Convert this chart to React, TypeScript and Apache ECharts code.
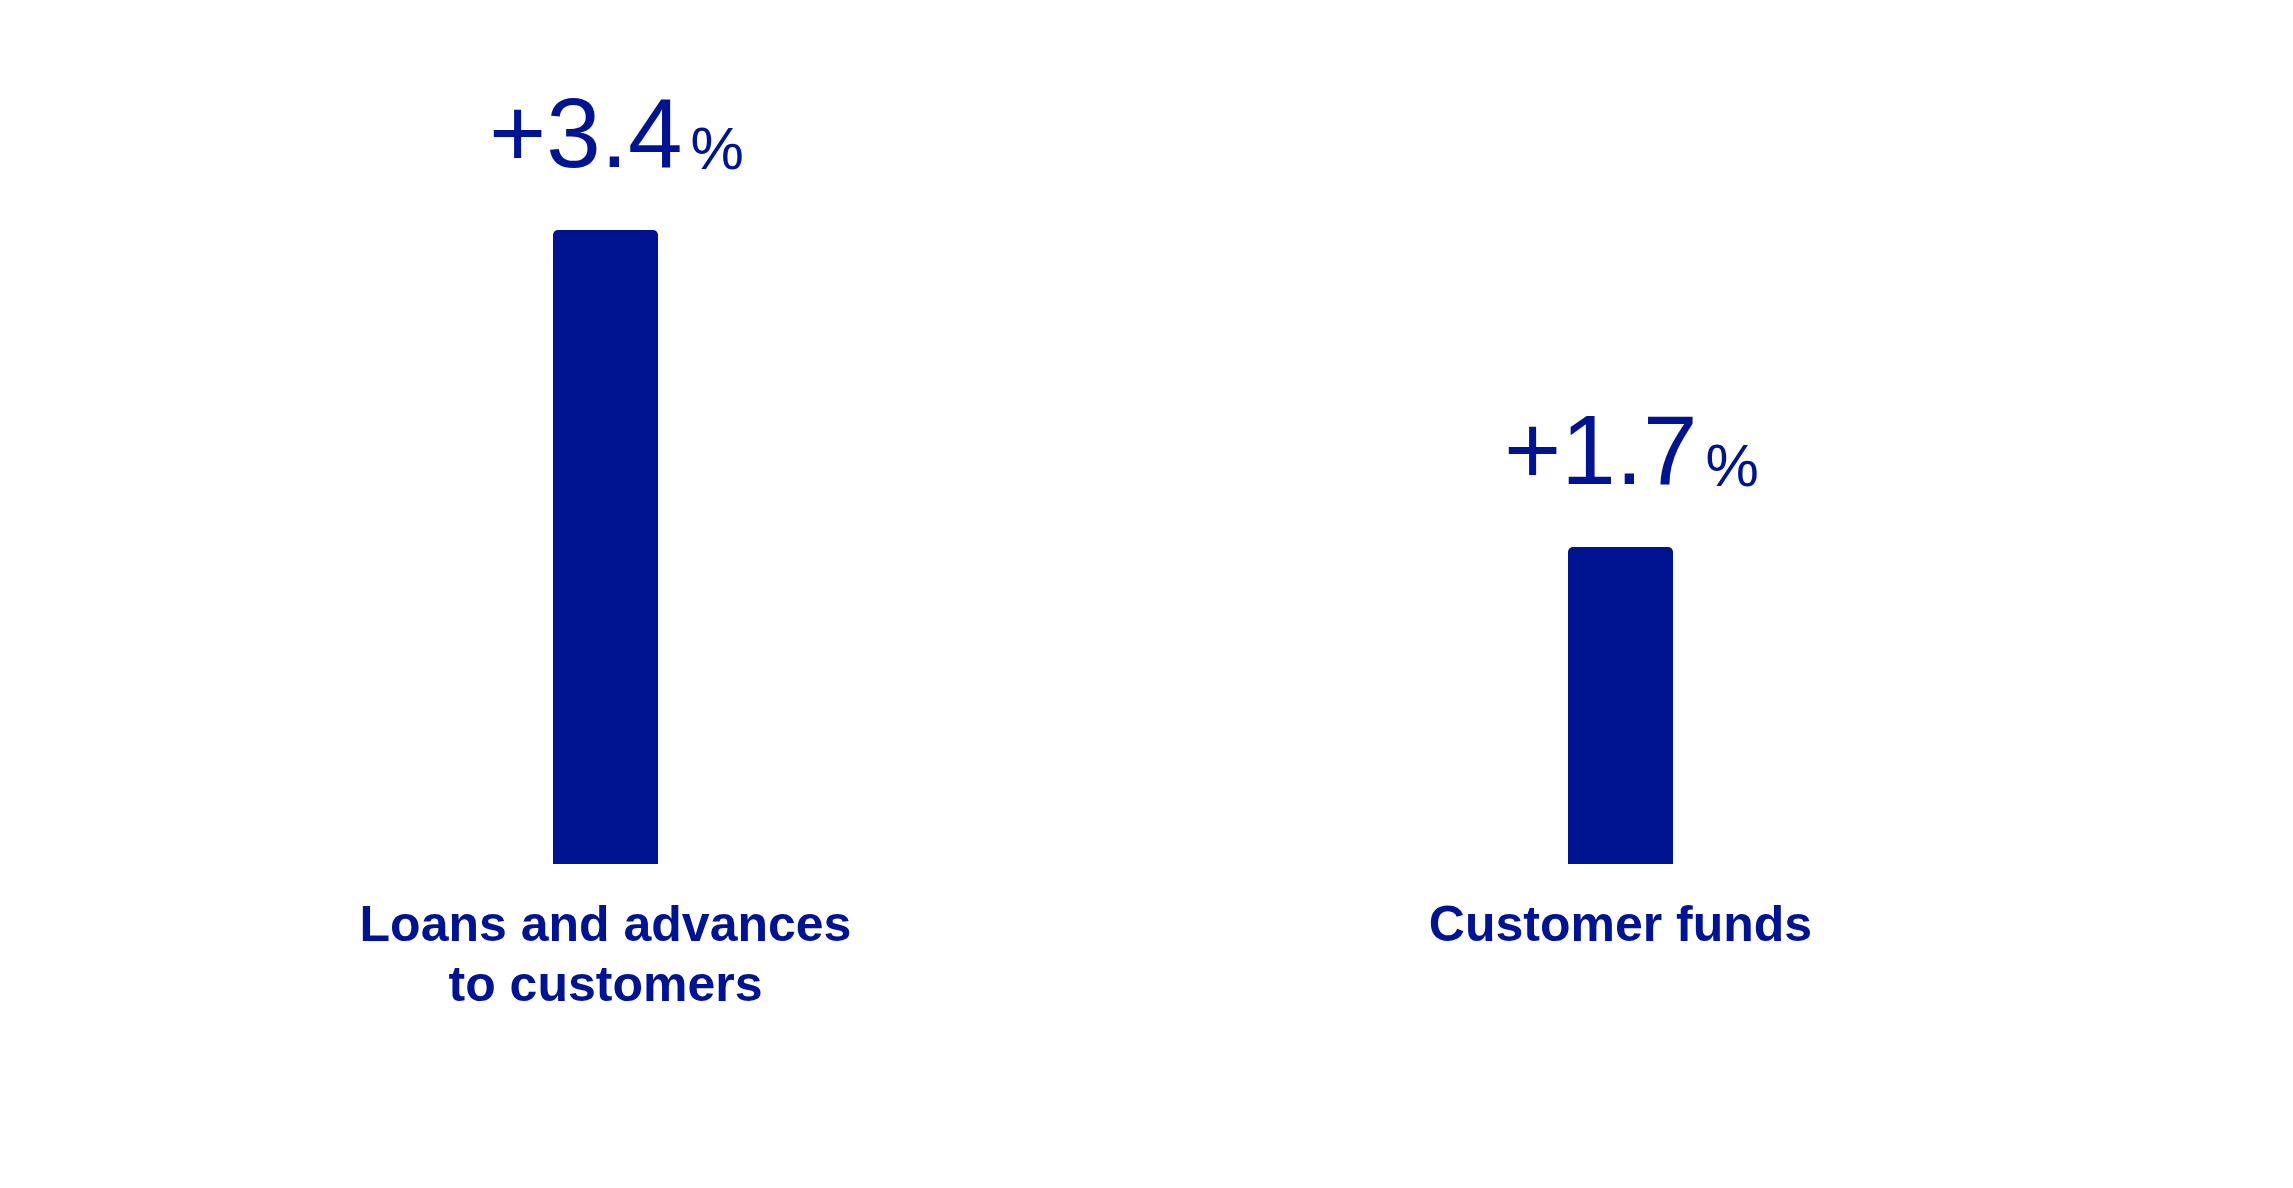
import React, { useEffect, useRef } from "react";
import * as echarts from "echarts";

const categories = ["Loans and advances\nto customers", "Customer funds"];
const values = [3.4, 1.7];
const valueLabels = ["+3.4", "+1.7"];

const COLOR = "#001391";

export default function App() {
  const ref = useRef<HTMLDivElement>(null);
  useEffect(() => {
    document.body.style.margin = "0";
    const chart = echarts.init(ref.current!, null, { renderer: "svg" });
    chart.setOption({
      animation: false,
      backgroundColor: "#ffffff",
      grid: { left: 98, right: 165, top: 230, bottom: 324 },
      xAxis: {
        type: "category",
        data: categories,
        axisLine: { show: false },
        axisTick: { show: false },
        axisLabel: {
          color: COLOR,
          fontFamily: "Liberation Sans",
          fontWeight: "bold",
          fontSize: 50,
          lineHeight: 60,
          margin: 30,
          interval: 0,
        },
      },
      yAxis: {
        type: "value",
        min: 0,
        max: 3.4,
        show: false,
        splitLine: { show: false },
      },
      series: [
        {
          type: "bar",
          data: values,
          barWidth: 105,
          itemStyle: { color: COLOR, borderRadius: [5, 5, 0, 0] },
          label: {
            show: true,
            position: "top",
            distance: 48,
            offset: [11, 0],
            formatter: (p: any) => `{a|${valueLabels[p.dataIndex]}}{b|%}`,
            rich: {
              a: {
                color: COLOR,
                fontFamily: "Liberation Sans",
                fontSize: 98,
                lineHeight: 98,
                verticalAlign: "bottom",
              },
              b: {
                color: COLOR,
                fontFamily: "Liberation Sans",
                fontSize: 60,
                lineHeight: 60,
                verticalAlign: "bottom",
                padding: [0, 0, 4, 8],
              },
            },
          },
        },
      ],
    });
    return () => chart.dispose();
  }, []);
  return <div ref={ref} style={{ width: 2293, height: 1188 }} />;
}
